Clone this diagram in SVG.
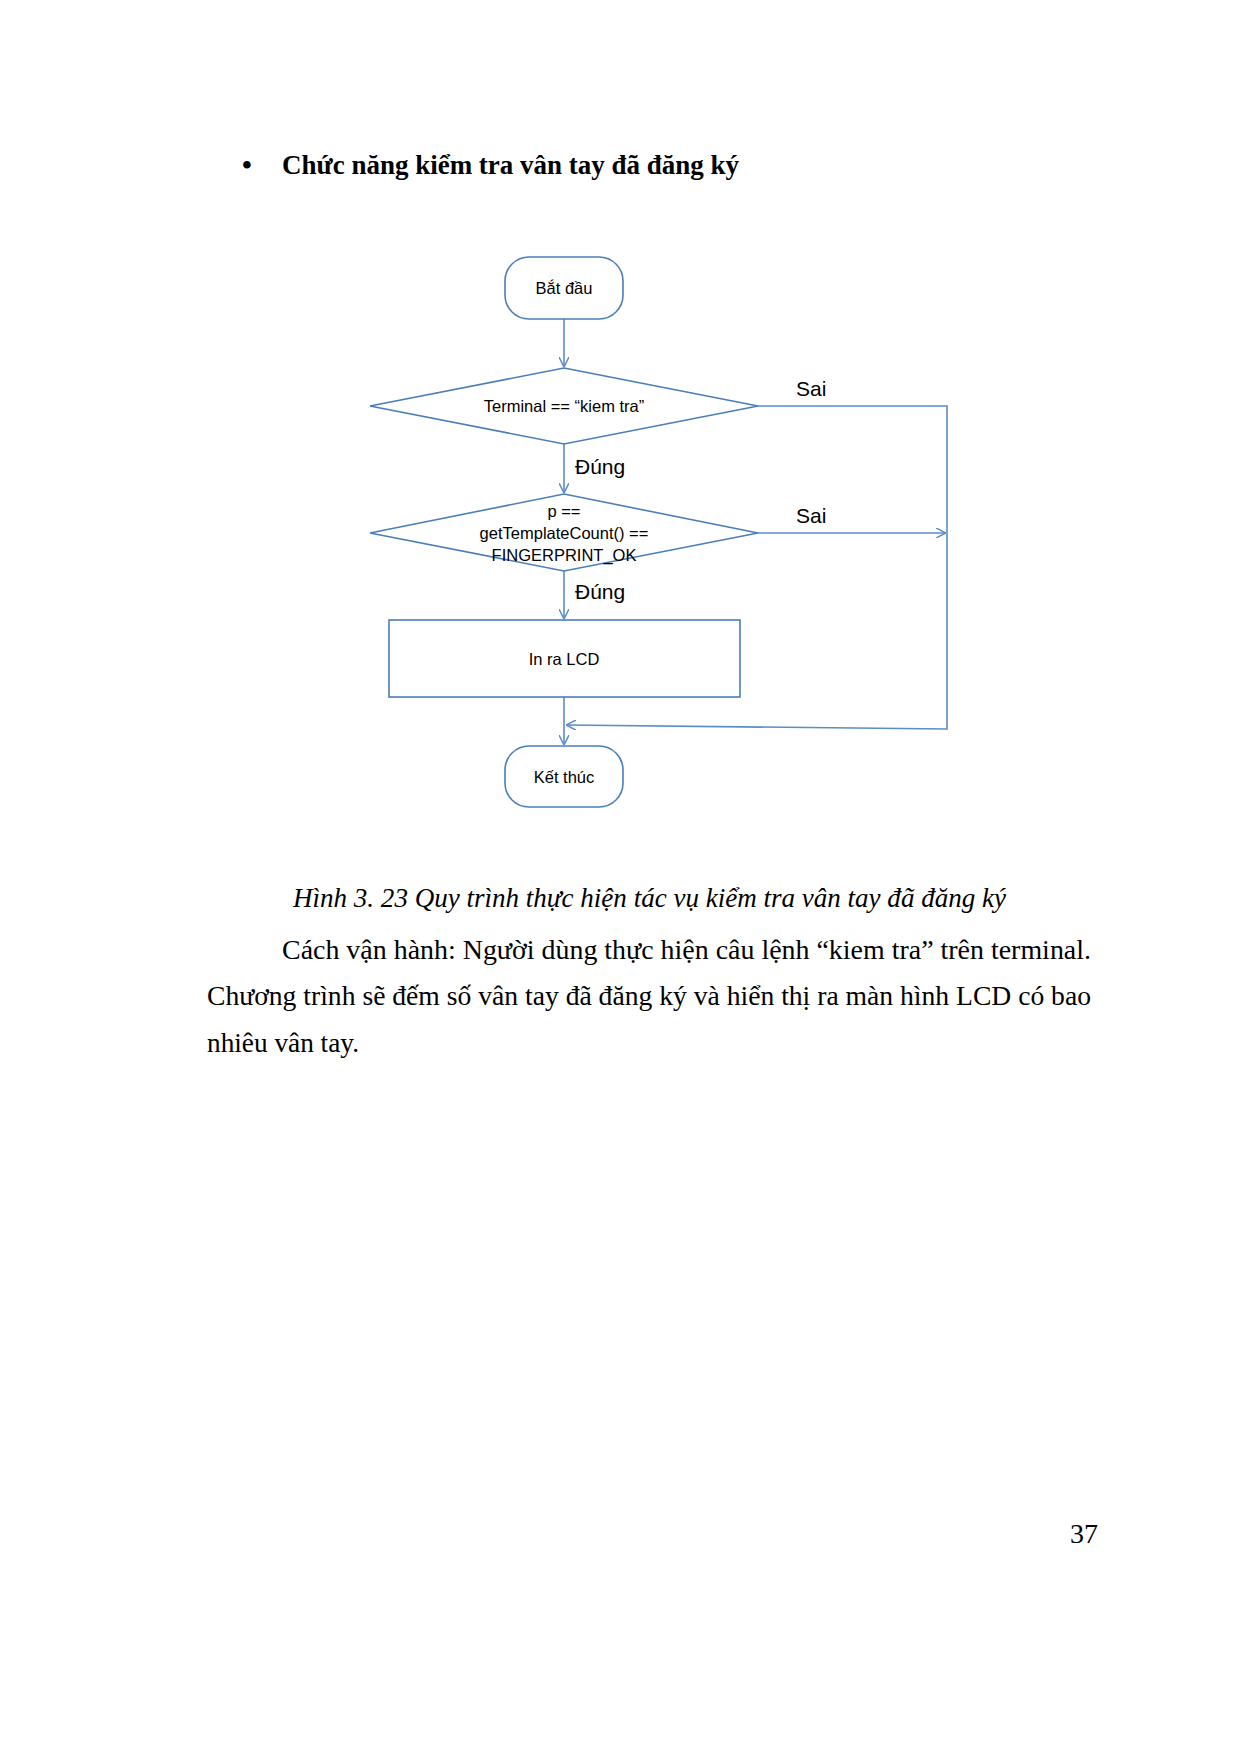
<svg xmlns="http://www.w3.org/2000/svg" width="1241" height="1754" viewBox="0 0 1241 1754">
<style>
.shape{fill:#fff;stroke:#4A7EBB;stroke-width:1.6}
.conn{fill:none;stroke:#5B8DC8;stroke-width:1.6}
.nt{font-family:"Liberation Sans",Arial,sans-serif;font-size:16.5px;fill:#000;text-anchor:middle}
.lbl{font-family:"Liberation Sans",Arial,sans-serif;font-size:21px;fill:#000}
.body{font-family:"Liberation Serif","Times New Roman",serif;font-size:28px;fill:#000}
</style>
<defs>
<marker id="arr" viewBox="0 0 10 10" refX="10" refY="5" markerWidth="10" markerHeight="10" markerUnits="userSpaceOnUse" orient="auto">
<path d="M0,0 L10,5 L0,10" fill="none" stroke="#5B8DC8" stroke-width="1.5"/>
</marker>
</defs>
<rect width="1241" height="1754" fill="#fff"/>
<text class="body" x="242" y="174" font-weight="bold" font-size="27">•</text>
<text class="body" x="282" y="174" font-weight="bold" font-size="27" textLength="457" lengthAdjust="spacingAndGlyphs">Chức năng kiểm tra vân tay đã đăng ký</text>

<g id="connectors">
<path class="conn" d="M564,319 V367" marker-end="url(#arr)"/>
<path class="conn" d="M564,444 V493" marker-end="url(#arr)"/>
<path class="conn" d="M564,571 V619" marker-end="url(#arr)"/>
<path class="conn" d="M564,697 V745" marker-end="url(#arr)"/>
<path class="conn" d="M758,406 H947 V729 L566,725" marker-end="url(#arr)"/>
<path class="conn" d="M758,533 H946" marker-end="url(#arr)"/>
<text class="lbl" x="796" y="396">Sai</text>
<text class="lbl" x="796" y="523">Sai</text>
<text class="lbl" x="575" y="474">Đúng</text>
<text class="lbl" x="575" y="599">Đúng</text>
</g>

<g id="start">
<rect class="shape" x="505" y="257" width="118" height="62" rx="24" ry="24"/>
<text class="nt" x="564" y="294">Bắt đầu</text>
</g>
<g id="check-terminal">
<polygon class="shape" points="564,368 758,406 564,444 370,406"/>
<text class="nt" x="564" y="412">Terminal == “kiem tra”</text>
</g>
<g id="check-count">
<polygon class="shape" points="564,494 758,533 564,571 370,533"/>
<text class="nt" x="564" y="517">p ==</text>
<text class="nt" x="564" y="539">getTemplateCount() ==</text>
<text class="nt" x="564" y="561">FINGERPRINT_OK</text>
</g>
<g id="print-lcd">
<rect class="shape" x="389" y="620" width="351" height="77"/>
<text class="nt" x="564" y="665">In ra LCD</text>
</g>
<g id="end">
<rect class="shape" x="505" y="746" width="118" height="61" rx="24" ry="24"/>
<text class="nt" x="564" y="783">Kết thúc</text>
</g>

<text class="body" x="293" y="907" font-style="italic" fill="#4E5B70" textLength="713" lengthAdjust="spacingAndGlyphs">Hình 3. 23 Quy trình thực hiện tác vụ kiểm tra vân tay đã đăng ký</text>
<text class="body" x="282" y="959" textLength="809" lengthAdjust="spacingAndGlyphs">Cách vận hành: Người dùng thực hiện câu lệnh “kiem tra” trên terminal.</text>
<text class="body" x="207" y="1005" textLength="884" lengthAdjust="spacingAndGlyphs">Chương trình sẽ đếm số vân tay đã đăng ký và hiển thị ra màn hình LCD có bao</text>
<text class="body" x="207" y="1052" textLength="152" lengthAdjust="spacingAndGlyphs">nhiêu vân tay.</text>
<text class="body" x="1070" y="1543" font-size="21">37</text>
</svg>
